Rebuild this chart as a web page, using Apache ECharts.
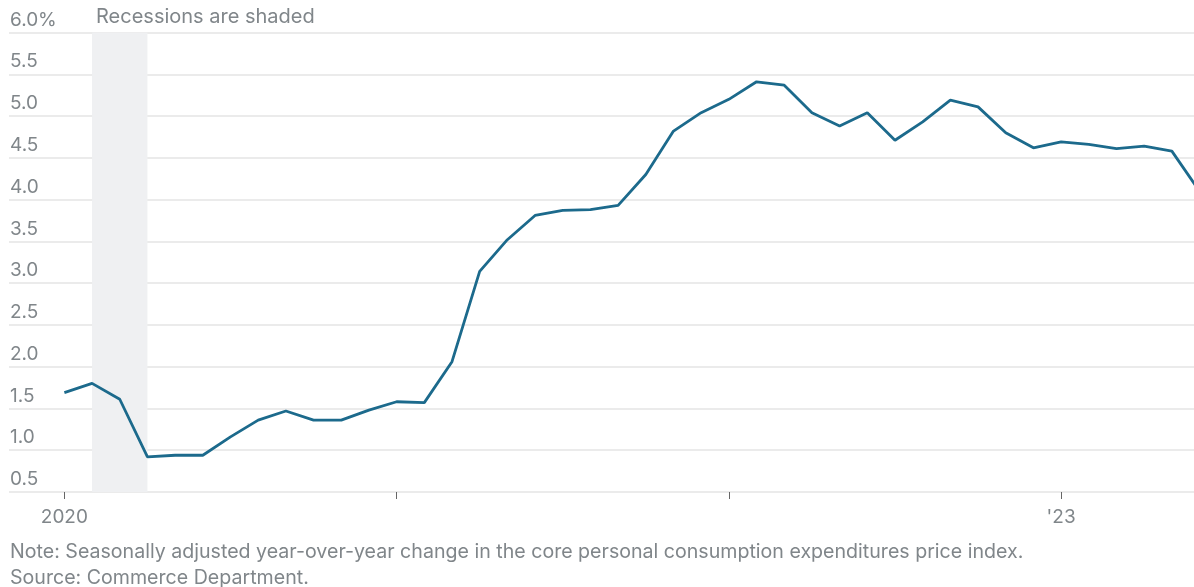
<!DOCTYPE html>
<html>
<head>
<meta charset="utf-8">
<script src="https://cdn.jsdelivr.net/npm/echarts@6/dist/echarts.min.js"></script>
<style>
html,body{margin:0;padding:0;background:#fff;}
#chart{width:1194px;height:587px;}
</style>
</head>
<body>
<div id="chart"></div>
<script>
const months = [
  '2020-01','2020-02','2020-03','2020-04','2020-05','2020-06','2020-07','2020-08','2020-09','2020-10','2020-11','2020-12',
  '2021-01','2021-02','2021-03','2021-04','2021-05','2021-06','2021-07','2021-08','2021-09','2021-10','2021-11','2021-12',
  '2022-01','2022-02','2022-03','2022-04','2022-05','2022-06','2022-07','2022-08','2022-09','2022-10','2022-11','2022-12',
  '2023-01','2023-02','2023-03','2023-04','2023-05','2023-06'
];
const values = [
  1.69, 1.80, 1.61, 0.92, 0.94, 0.94, 1.16, 1.36, 1.47, 1.36, 1.36, 1.48,
  1.58, 1.57, 2.06, 3.14, 3.52, 3.81, 3.87, 3.88, 3.93, 4.30, 4.82, 5.04,
  5.20, 5.41, 5.37, 5.04, 4.88, 5.04, 4.71, 4.93, 5.19, 5.11, 4.80, 4.62,
  4.69, 4.66, 4.61, 4.64, 4.58, 4.10
];
const recession = ['2020-02', '2020-04'];
const yTicks = [0.5, 1.0, 1.5, 2.0, 2.5, 3.0, 3.5, 4.0, 4.5, 5.0, 5.5, 6.0];
const xTickMonths = ['2020-01', '2021-01', '2022-01', '2023-01'];
const xLabels = {'2020-01': '2020', '2023-01': "'23"};
const noteText = 'Note: Seasonally adjusted year-over-year change in the core personal consumption expenditures price index.';
const sourceText = 'Source: Commerce Department.';
const shadeText = 'Recessions are shaded';

function idx(m) { const [y, mo] = m.split('-').map(Number); return (y - 2020) * 12 + mo - 1; }
const seriesData = months.map((m, i) => [idx(m), values[i]]);
const tickIdx = xTickMonths.map(idx);
const labelIdx = Object.keys(xLabels).map(idx);
const labelMap = {};
Object.keys(xLabels).forEach(k => { labelMap[idx(k)] = xLabels[k]; });

const FONT = 'Inter, Roboto, "Liberation Sans", sans-serif';
const TXT = '#80868a';

const chart = echarts.init(document.getElementById('chart'), null, {renderer: 'canvas'});
chart.setOption({
  animation: false,
  backgroundColor: '#ffffff',
  grid: {left: 9, right: 0, top: 32.5, bottom: 95, containLabel: false},
  xAxis: {
    type: 'value', min: -2, max: 40.8,
    splitLine: {show: false},
    axisLine: {show: false},
    axisTick: {show: true, customValues: tickIdx, length: 7, lineStyle: {color: '#666', width: 1}},
    axisLabel: {
      customValues: labelIdx, margin: 16,
      formatter: v => labelMap[Math.round(v)] || '',
      color: TXT, fontSize: 19, fontFamily: FONT
    }
  },
  yAxis: {
    type: 'value', min: yTicks[0], max: yTicks[yTicks.length - 1], interval: 0.5,
    axisLine: {show: false}, axisTick: {show: false},
    splitLine: {show: true, lineStyle: {color: '#e4e4e4', width: 1.5}},
    axisLabel: {
      inside: true, margin: 1, align: 'left', verticalAlign: 'bottom',
      padding: [0, 0, 3, 0],
      color: TXT, fontSize: 19, fontFamily: FONT,
      formatter: v => { const s = v.toFixed(1); return Math.abs(v - 6) < 1e-9 ? s + '%' : s; }
    }
  },
  graphic: [
    {type: 'text', left: 96, top: 7, style: {text: shadeText, fill: TXT, font: '20px ' + FONT}},
    {type: 'text', left: 10, top: 542, style: {text: noteText, fill: TXT, font: '19.6px ' + FONT}},
    {type: 'text', left: 10, top: 568, style: {text: sourceText, fill: TXT, font: '19.6px ' + FONT}}
  ],
  series: [{
    type: 'line',
    data: seriesData,
    showSymbol: false,
    clip: true,
    lineStyle: {color: '#1c6a8c', width: 2.8},
    z: 3,
    markArea: {
      silent: true,
      itemStyle: {color: '#eff0f2'},
      data: [[{xAxis: idx(recession[0])}, {xAxis: idx(recession[1])}]]
    }
  }]
});
</script>
</body>
</html>
